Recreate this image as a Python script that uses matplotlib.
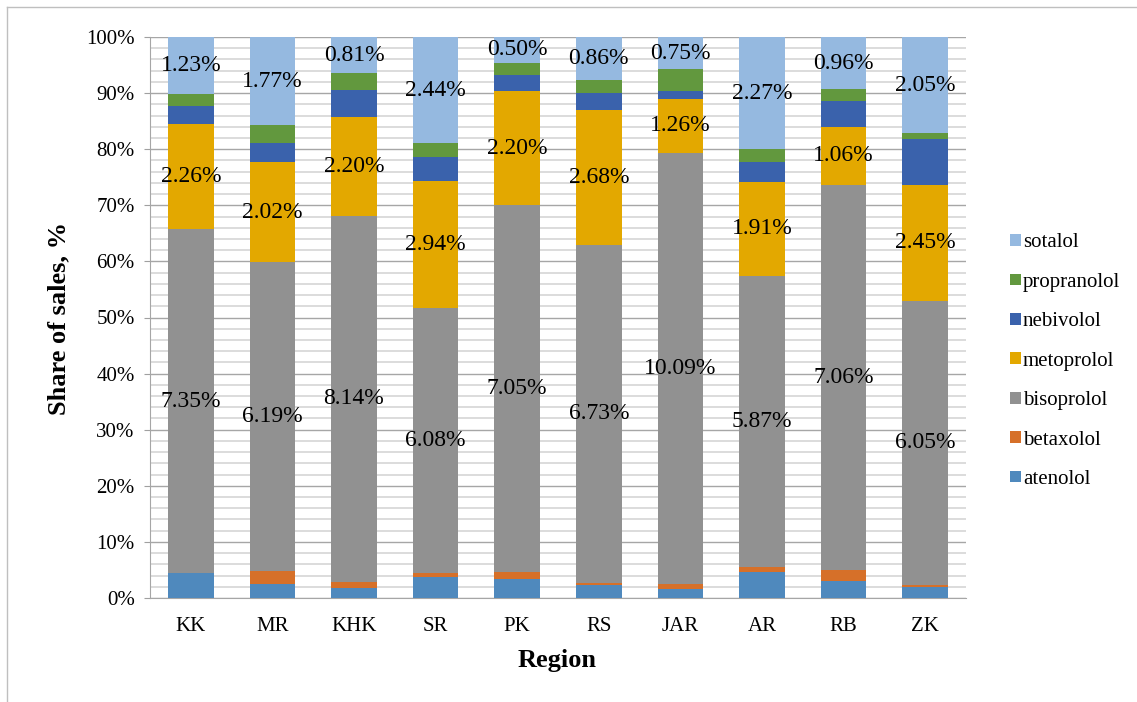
import numpy as np
import matplotlib.pyplot as plt
from matplotlib.lines import Line2D
from matplotlib.patches import Patch
from matplotlib.ticker import MultipleLocator, PercentFormatter

regions = ["KK", "MR", "KHK", "SR", "PK", "RS", "JAR", "AR", "RB", "ZK"]

# sales values per drug and region, %
atenolol = [0.53, 0.29, 0.23, 0.48, 0.37, 0.25, 0.20, 0.52, 0.31, 0.23]
betaxolol = [0.01, 0.25, 0.12, 0.10, 0.13, 0.05, 0.13, 0.11, 0.20, 0.04]
bisoprolol = [7.35, 6.19, 8.14, 6.08, 7.05, 6.73, 10.09, 5.87, 7.06, 6.05]
metoprolol = [2.26, 2.02, 2.20, 2.94, 2.20, 2.68, 1.26, 1.91, 1.06, 2.45]
nebivolol = [0.38, 0.37, 0.60, 0.54, 0.30, 0.34, 0.18, 0.40, 0.48, 0.99]
propranolol = [0.25, 0.36, 0.36, 0.32, 0.24, 0.26, 0.52, 0.25, 0.21, 0.11]
sotalol = [1.23, 1.77, 0.81, 2.44, 0.50, 0.86, 0.75, 2.27, 0.96, 2.05]

drugs = ["atenolol", "betaxolol", "bisoprolol", "metoprolol",
         "nebivolol", "propranolol", "sotalol"]
values = [atenolol, betaxolol, bisoprolol, metoprolol,
          nebivolol, propranolol, sotalol]
colors = ["#4F89BD", "#D67029", "#919191", "#E3A800",
          "#3A62AC", "#62983E", "#95B9E0"]
labelled = ["bisoprolol", "metoprolol", "sotalol"]

plt.rcParams['font.family'] = ['Liberation Serif', 'DejaVu Serif']

fig = plt.figure(figsize=(11.37, 7.02), dpi=100)
ax = fig.add_axes([150/1137, 104/702, 816/1137, 561/702])

data = np.array(values, dtype=float)
shares = data / data.sum(axis=0) * 100
x = np.arange(len(regions))
bottom = np.zeros(len(regions))
for name, share, raw, c in zip(drugs, shares, data, colors):
    ax.bar(x, share, bottom=bottom, width=0.56, color=c, zorder=3)
    if name in labelled:
        for xi, b, s, v in zip(x, bottom, share, raw):
            ax.text(xi, b + s / 2, f"{v:.2f}%", ha='center', va='center',
                    fontsize=17, zorder=4)
    bottom += share

ax.set_xlim(-0.5, len(regions) - 0.5)
ax.set_ylim(0, 100)
ax.set_xticks(x)
ax.set_xticklabels(regions, fontsize=15)
ax.yaxis.set_major_locator(MultipleLocator(10))
ax.yaxis.set_minor_locator(MultipleLocator(2))
ax.yaxis.set_major_formatter(PercentFormatter(decimals=0))
ax.tick_params(axis='y', labelsize=15, length=4, color='#a0a0a0', pad=7)
ax.tick_params(axis='y', which='minor', length=0)
ax.tick_params(axis='x', length=0, pad=14)

ax.grid(axis='y', which='major', color='#a6a6a6', linewidth=1.0, zorder=0)
ax.grid(axis='y', which='minor', color='#d6d6d6', linewidth=1.2, zorder=0)
ax.set_axisbelow(True)
for s in ['top', 'right']:
    ax.spines[s].set_visible(False)
for s in ['left', 'bottom']:
    ax.spines[s].set_color('#a6a6a6')

fig.text(59/1137, 1 - 318/702, "Share of sales, %", rotation=90,
         ha='center', va='center', fontsize=19, fontweight='bold')
fig.text(557/1137, 1 - 660/702, "Region", ha='center', va='center',
         fontsize=19, fontweight='bold')

handles = [Patch(facecolor=c, label=n) for n, c in zip(drugs, colors)][::-1]
fig.legend(handles=handles, loc='upper left',
           bbox_to_anchor=(1000/1137, 1 - 223/702), frameon=False,
           fontsize=15, handlelength=0.5, handleheight=0.5,
           handletextpad=0.1, labelspacing=0.98, borderpad=0)

# chart frame edges
fig.add_artist(Line2D([7/1137, 7/1137], [0, 1 - 7/702], color='#bfbfbf',
                      linewidth=1, transform=fig.transFigure))
fig.add_artist(Line2D([7/1137, 1], [1 - 7/702, 1 - 7/702], color='#bfbfbf',
                      linewidth=1, transform=fig.transFigure))

fig.savefig("out.png", dpi=100)
